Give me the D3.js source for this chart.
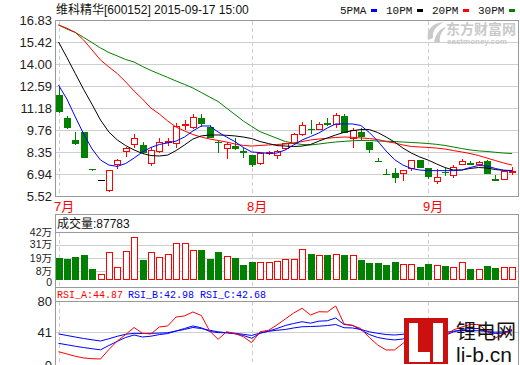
<!DOCTYPE html>
<html>
<head>
<meta charset="utf-8">
<script src="https://cdn.jsdelivr.net/npm/d3@7"></script>
<style>
  body { margin: 0; background: #fff; }
  svg { display: block; font-family: "Liberation Sans", "Noto Sans CJK SC", sans-serif; }
</style>
</head>
<body>
<svg id="chart" width="520" height="365"></svg>
<script>
// trading days, 2015-07-01 .. 2015-09-17
const days = [
  '07-01','07-02','07-03','07-06','07-07','07-08','07-09','07-10','07-13','07-14','07-15','07-16',
  '07-17','07-20','07-21','07-22','07-23','07-24','07-27','07-28','07-29','07-30','07-31',
  '08-03','08-04','08-05','08-06','08-07','08-10','08-11','08-12','08-13','08-14','08-17','08-18',
  '08-19','08-20','08-21','08-24','08-25','08-26','08-27','08-28','08-31',
  '09-01','09-02','09-07','09-08','09-09','09-10','09-11','09-14','09-15','09-16','09-17'
];
const monthStarts = ['07-01', '08-03', '09-01'];
const monthLabels = ['7月', '8月', '9月'];

const open  = [12.01,10.51,9.12,9.65,7.26,6.52,5.90,7.58,8.41,8.86,8.80,7.66,8.43,8.99,8.91,10.06,9.93,10.51,9.97,9.02,8.58,8.73,8.38,8.15,7.62,8.28,8.15,8.60,8.94,9.50,9.82,9.81,10.18,10.13,10.66,9.23,9.65,9.01,7.80,6.94,6.98,7.02,7.30,7.83,7.30,6.50,7.09,6.87,7.58,7.62,7.58,7.77,6.60,6.59,7.06];
const high  = [12.50,10.66,9.63,9.66,7.27,6.52,7.17,7.90,8.69,9.52,8.97,8.69,9.23,9.23,10.19,10.40,10.79,10.79,10.08,9.05,9.01,9.23,8.65,8.18,8.26,8.40,8.45,8.91,9.59,10.29,10.40,10.26,10.51,10.83,10.79,9.87,9.87,9.02,7.98,7.25,7.30,7.19,7.83,7.83,7.30,7.24,7.30,7.51,7.90,7.79,7.79,7.86,6.87,7.13,7.36];
const low   = [10.95,9.90,8.86,8.04,7.20,6.52,5.87,7.34,8.11,8.69,8.26,7.51,8.37,8.80,8.65,9.81,9.87,10.02,9.29,8.33,7.94,8.52,8.04,7.45,7.60,8.20,7.99,8.55,8.91,9.44,9.59,9.81,10.08,9.97,9.63,8.69,9.12,8.37,7.77,6.91,6.44,6.55,7.19,7.40,6.66,6.37,6.87,6.76,7.58,7.58,7.58,6.98,6.55,6.59,6.93];
const close = [11.00,9.93,8.94,8.04,7.24,6.52,7.17,7.83,8.58,9.23,8.37,8.48,9.01,9.05,10.02,10.13,10.58,10.23,9.33,9.00,8.86,8.58,8.36,7.58,8.26,8.33,8.43,8.91,9.50,10.08,9.80,10.13,10.15,10.72,9.65,9.76,9.39,8.52,7.79,6.93,6.72,7.19,7.83,7.40,6.80,6.72,7.07,7.40,7.77,7.60,7.72,6.98,6.58,7.13,7.10];

// moving averages as drawn on the chart
const ma5  = [12.65,11.75,10.60,9.50,8.54,7.83,7.51,7.42,7.61,7.96,8.35,8.64,8.83,8.93,9.05,9.31,9.70,10.02,10.02,9.63,9.31,9.02,8.64,8.35,8.31,8.26,8.28,8.48,8.80,9.12,9.34,9.57,9.89,10.15,10.15,10.15,10.05,9.60,9.05,8.41,7.86,7.51,7.29,7.19,7.15,7.15,7.15,7.15,7.19,7.35,7.48,7.45,7.29,7.17,7.15];
const ma10 = [15.42,14.42,13.39,12.36,11.40,10.40,9.63,9.12,8.76,8.48,8.25,8.12,8.09,8.15,8.44,8.80,9.18,9.38,9.44,9.44,9.42,9.38,9.31,9.21,9.02,8.89,8.76,8.73,8.70,8.73,8.83,9.05,9.25,9.44,9.61,9.72,9.79,9.79,9.60,9.31,8.99,8.60,8.28,8.03,7.83,7.58,7.35,7.19,7.19,7.29,7.35,7.32,7.22,7.17,7.16];
const ma20 = [16.51,16.30,16.03,15.54,14.90,14.26,13.81,13.39,12.85,12.27,11.75,11.17,10.79,10.34,9.95,9.70,9.47,9.31,9.18,9.09,8.99,8.86,8.77,8.73,8.77,8.80,8.83,8.86,8.93,9.02,9.12,9.18,9.23,9.28,9.31,9.29,9.25,9.21,9.15,9.02,8.93,8.80,8.70,8.67,8.64,8.60,8.54,8.44,8.35,8.25,8.12,7.96,7.80,7.64,7.51];
const ma30 = [16.51,16.25,16.03,15.71,15.38,15.03,14.74,14.52,14.29,14.13,13.84,13.59,13.36,13.14,12.91,12.69,12.46,12.17,11.88,11.59,11.17,10.76,10.34,9.99,9.65,9.44,9.23,9.02,8.91,8.83,8.80,8.86,8.93,8.99,9.03,9.07,9.09,9.09,9.05,9.04,9.02,8.99,8.96,8.93,8.89,8.84,8.77,8.67,8.57,8.48,8.42,8.38,8.33,8.28,8.25];

// volume in 万
const volume = [19.5,18.4,20.1,21.9,9.6,5.0,24.5,11.0,25.0,37.3,17.5,24.5,19.8,22.7,32.0,32.0,26.0,26.2,18.4,24.5,20.7,19.2,13.1,16.0,16.0,16.0,16.6,18.4,18.4,26.8,23.0,21.9,21.9,22.7,21.9,21.9,17.5,15.2,15.2,13.1,16.0,14.0,14.0,11.4,14.0,12.8,12.2,11.4,15.7,9.6,9.6,12.2,10.5,11.4,11.4];
const lastVolume = 87783;

const rsiA = [16.6,13.8,10.9,8.8,7.9,7.5,19.4,30.0,38.1,46.9,39.6,38.8,47.5,48.8,60.0,61.3,66.3,61.9,42.5,32.1,41.6,39.4,35.4,27.9,41.6,43.4,50.0,57.5,65.0,70.9,62.5,66.6,66.3,73.8,51.3,49.4,45.6,34.4,25.0,18.8,18.8,26.9,36.3,31.3,23.8,28.8,36.3,43.8,47.5,50.6,50.6,42.5,33.8,38.8,44.87];
const rsiB = [27.1,25.3,23.4,21.8,20.3,19.0,24.4,29.6,34.4,37.5,35.0,36.0,38.0,39.3,42.5,45.6,48.8,46.5,41.9,40.4,40.4,39.0,36.9,33.4,39.6,42.5,45.6,49.4,51.9,54.1,52.3,54.8,55.3,58.8,50.6,49.6,43.8,38.1,34.4,32.5,31.3,32.5,35.6,34.4,32.5,34.4,36.9,41.3,44.4,45.6,45.6,41.6,39.4,40.0,42.98];
const rsiC = [38.8,36.9,35.0,33.1,31.5,30.0,32.8,35.9,38.4,39.6,39.4,39.6,39.9,40.3,42.5,44.4,46.9,45.6,43.4,41.5,40.3,39.6,38.4,36.9,40.0,42.1,43.4,44.4,46.3,47.8,48.1,48.5,49.3,50.6,46.6,46.3,44.4,41.5,39.6,38.1,37.5,38.4,39.6,38.8,37.8,39.0,40.6,42.3,43.1,43.1,42.8,41.9,41.0,41.5,42.68];

const priceTicks = [16.83, 15.42, 14.00, 12.59, 11.18, 9.76, 8.35, 6.94, 5.52];
const volTicks = [42, 31, 19, 8, 0];
const rsiTicks = [80, 41, 0];

const maNames = ['5PMA', '10PM', '20PM', '30PM'];

const RED = '#ff0000', GREEN = '#008000', BLUE = '#0000ff', BLACK = '#000000';
const GRID = '#cfcfcf', FRAME = '#999999';
const LEFT = 55, RIGHT = 519;

const svg = d3.select('#chart');

const x = d3.scalePoint().domain(days).range([58.5, 512.1]);
const yPrice = d3.scaleLinear().domain([5.52, 16.83]).range([196, 20]);
const yVol = d3.scaleLinear().domain([0, 42]).range([280, 232]);
const yRsi = d3.scaleLinear().domain([0, 80]).range([365, 301]);

const px = d => Math.round(x(d));
const crisp = v => Math.round(v) + 0.5;

// ---------- grids ----------
function hGrid(scale, ticks) {
  svg.append('g').selectAll('line').data(ticks).join('line')
    .attr('x1', LEFT).attr('x2', RIGHT)
    .attr('y1', d => crisp(scale(d))).attr('y2', d => crisp(scale(d)))
    .attr('stroke', GRID).attr('shape-rendering', 'crispEdges');
}
function monthLines(y0, y1) {
  svg.append('g').selectAll('line').data(monthStarts).join('line')
    .attr('x1', d => px(d) + 0.5).attr('x2', d => px(d) + 0.5)
    .attr('y1', y0).attr('y2', y1)
    .attr('stroke', GRID).attr('stroke-dasharray', '4,3')
    .attr('shape-rendering', 'crispEdges');
}
hGrid(yPrice, priceTicks);
hGrid(yVol, volTicks.filter(v => v > 0 && v < 42));
hGrid(yRsi, [41]);
monthLines(21, 196);
monthLines(233, 287);
monthLines(302, 365);

// ---------- axes ----------
function leftAxis(scale, ticks, fmt, size) {
  const g = svg.append('g').attr('transform', `translate(${LEFT},0)`)
    .call(d3.axisLeft(scale).tickValues(ticks).tickFormat(fmt).tickSize(0).tickPadding(3));
  g.select('.domain').remove();
  g.attr('font-family', '"Liberation Sans", "Noto Sans CJK SC", sans-serif').attr('font-size', size);
  g.selectAll('text').attr('fill', '#222');
  return g;
}
leftAxis(yPrice, priceTicks, d3.format('.2f'), 13);
const volAxis = leftAxis(yVol, volTicks, d => d === 0 ? '0' : d + '万', 10.5);
volAxis.selectAll('.tick').filter(d => d === 0).select('text').attr('dy', '0.55em');
leftAxis(yRsi, rsiTicks, d => String(d), 13);

svg.append('g').selectAll('text').data(monthStarts).join('text')
  .attr('x', d => px(d) - 5).attr('y', 211)
  .attr('fill', RED).attr('font-size', 13)
  .text((d, i) => monthLabels[i]);

// ---------- candles ----------
const candleColor = i => close[i] > open[i] ? RED : close[i] < open[i] ? GREEN : BLACK;
const candles = svg.append('g').attr('shape-rendering', 'crispEdges');
candles.selectAll('line').data(days).join('line')
  .attr('x1', d => px(d) + 0.5).attr('x2', d => px(d) + 0.5)
  .attr('y1', (d, i) => Math.round(yPrice(high[i]))).attr('y2', (d, i) => Math.round(yPrice(low[i])) + 1)
  .attr('stroke', (d, i) => candleColor(i));
candles.selectAll('rect').data(days).join('rect')
  .each(function (d, i) {
    const top = Math.round(yPrice(Math.max(open[i], close[i])));
    const bot = Math.round(yPrice(Math.min(open[i], close[i])));
    const r = d3.select(this);
    if (close[i] > open[i]) {
      r.attr('x', px(d) - 2.5).attr('y', top + 0.5).attr('width', 6).attr('height', Math.max(1, bot - top))
        .attr('fill', '#fff').attr('stroke', RED);
    } else {
      r.attr('x', px(d) - 3).attr('y', top).attr('width', 7).attr('height', Math.max(1, bot - top + 1))
        .attr('fill', candleColor(i));
    }
  });

// ---------- moving averages ----------
const maLine = d3.line().x((d, i) => x(days[i])).y(d => yPrice(d));
[[ma30, GREEN], [ma20, RED], [ma10, BLACK], [ma5, BLUE]].forEach(([s, c]) => {
  svg.append('path').datum(s).attr('d', maLine)
    .attr('fill', 'none').attr('stroke', c).attr('stroke-width', 1);
});

// ---------- volume ----------
const vols = svg.append('g').attr('shape-rendering', 'crispEdges');
vols.selectAll('rect').data(days).join('rect')
  .each(function (d, i) {
    const top = Math.round(yVol(volume[i]));
    const base = Math.round(yVol(0));
    const r = d3.select(this);
    if (close[i] >= open[i]) {
      r.attr('x', px(d) - 2.5).attr('y', top + 0.5).attr('width', 6).attr('height', base - top - 1)
        .attr('fill', '#fff').attr('stroke', RED);
    } else {
      r.attr('x', px(d) - 3).attr('y', top).attr('width', 7).attr('height', base - top)
        .attr('fill', GREEN);
    }
  });

// ---------- RSI ----------
const rsiLine = d3.line().x((d, i) => x(days[i])).y(d => yRsi(d));
[[rsiC, BLUE], [rsiB, BLUE], [rsiA, RED]].forEach(([s, c]) => {
  svg.append('path').datum(s).attr('d', rsiLine)
    .attr('fill', 'none').attr('stroke', c).attr('stroke-width', 1);
});

// ---------- frames ----------
const frames = svg.append('g').attr('fill', 'none').attr('stroke', FRAME).attr('shape-rendering', 'crispEdges');
frames.append('rect').attr('x', LEFT + 0.5).attr('y', 20.5).attr('width', RIGHT - LEFT - 1).attr('height', 176);
frames.append('rect').attr('x', LEFT + 0.5).attr('y', 214.5).attr('width', RIGHT - LEFT - 1).attr('height', 73);
frames.append('line').attr('x1', LEFT).attr('x2', RIGHT).attr('y1', 232.5).attr('y2', 232.5);
frames.append('rect').attr('x', LEFT + 0.5).attr('y', 287.5).attr('width', RIGHT - LEFT - 1).attr('height', 80);
frames.append('line').attr('x1', LEFT).attr('x2', RIGHT).attr('y1', 301.5).attr('y2', 301.5);

// ---------- texts ----------
svg.append('text').attr('x', 56).attr('y', 14).attr('font-size', 12).attr('fill', '#111')
  .text('维科精华[600152] 2015-09-17 15:00');

const legend = svg.append('g').attr('font-family', '"Liberation Mono", monospace').attr('font-size', 11);
maNames.forEach((n, i) => {
  const c = [BLUE, BLACK, RED, GREEN][i];
  legend.append('text').attr('x', 340 + 46 * i).attr('y', 14).attr('fill', '#111').text(n);
  legend.append('rect').attr('x', 371 + 46 * i).attr('y', 9).attr('width', 6).attr('height', 3).attr('fill', c);
});

svg.append('text').attr('x', 57).attr('y', 228).attr('font-size', 12).attr('fill', '#111')
  .text('成交量:' + lastVolume);

const rsiHead = svg.append('g').attr('font-family', '"Liberation Mono", monospace').attr('font-size', 10);
[['RSI_A', rsiA, RED, 57], ['RSI_B', rsiB, BLUE, 128], ['RSI_C', rsiC, BLUE, 200]].forEach(([n, s, c, tx]) => {
  rsiHead.append('text').attr('x', tx).attr('y', 298).attr('fill', c)
    .text(n + ':' + s[s.length - 1].toFixed(2));
});

// ---------- watermarks ----------
const wm = svg.append('g').attr('fill', '#c9c9c9');
wm.append('path').attr('d', 'M428,40 C426,30 432,23 444,22 C436,26 432,31 433,38 Z M434,42 C436,33 441,28 446,27 C441,32 439,37 440,42 Z');
wm.append('text').attr('x', 446).attr('y', 34).attr('font-size', 14).attr('font-weight', 'bold').text('东方财富网');
wm.append('text').attr('x', 447).attr('y', 44).attr('font-size', 8).attr('font-weight', 'bold').text('eastmoney.com');

const logo = svg.append('g').attr('shape-rendering', 'crispEdges');
logo.append('rect').attr('x', 404).attr('y', 318).attr('width', 44).attr('height', 46).attr('fill', '#cc1010');
logo.append('rect').attr('x', 409).attr('y', 323).attr('width', 9).attr('height', 39).attr('fill', '#fff');
logo.append('rect').attr('x', 409).attr('y', 352).attr('width', 21).attr('height', 10).attr('fill', '#fff');
logo.append('rect').attr('x', 433).attr('y', 323).attr('width', 10).attr('height', 39).attr('fill', '#fff');
svg.append('text').attr('x', 456).attr('y', 339).attr('font-size', 20).attr('font-family', '"Noto Sans CJK SC", sans-serif')
  .attr('fill', '#111').text('锂电网');
svg.append('text').attr('x', 456).attr('y', 362).attr('font-size', 21).attr('fill', '#111').text('li-b.cn');
</script>
</body>
</html>
